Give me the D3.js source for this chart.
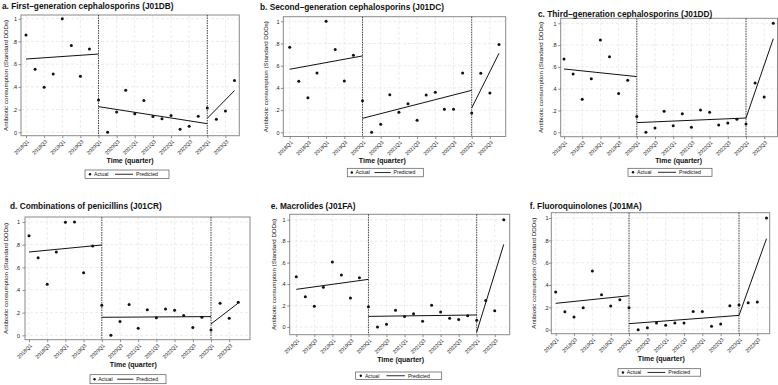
<!DOCTYPE html>
<html><head><meta charset="utf-8">
<script src="https://cdn.jsdelivr.net/npm/d3@7"></script>
<style>body{margin:0;background:#fff}svg{display:block;font-family:"Liberation Sans",Arial,sans-serif}</style>
</head><body><svg id="c" width="778" height="385"></svg>
<script>
// ---------- DATA ----------
const quarters = ["2018Q1","2018Q2","2018Q3","2018Q4","2019Q1","2019Q2","2019Q3","2019Q4",
  "2020Q1","2020Q2","2020Q3","2020Q4","2021Q1","2021Q2","2021Q3","2021Q4",
  "2022Q1","2022Q2","2022Q3","2022Q4","2023Q1","2023Q2","2023Q3","2023Q4"];
const tickLabels = ["2018Q1","2018Q3","2019Q1","2019Q3","2020Q1","2020Q3","2021Q1","2021Q3","2022Q1","2022Q3","2023Q1","2023Q3"];
const yTicks = [0, 0.2, 0.4, 0.6, 0.8, 1];
const yTickLabels = ["0", ".2", ".4", ".6", ".8", "1"];
const interruptions = ["2020Q1", "2023Q1"];
const segmentStarts = ["2018Q1", "2020Q1", "2023Q1"];
const segmentEnds = ["2020Q1", "2023Q1", "2023Q4"];
const titles = [
  "a. First–generation cephalosporins (J01DB)",
  "b. Second–generation cephalosporins (J01DC)",
  "c. Third–generation cephalosporins (J01DD)",
  "d. Combinations of penicillins (J01CR)",
  "e. Macrolides (J01FA)",
  "f. Fluoroquinolones (J01MA)"
];
const yAxisTitle = "Antibiotic consumption (Standard DDDs)";
const xAxisTitle = "Time (quarter)";
const legendLabels = ["Actual", "Predicted"];

const actualA = [0.856,0.554,0.396,0.513,1.0,0.765,0.493,0.733,0.284,0.0,0.179,0.37,0.164,0.279,0.138,0.12,0.147,0.026,0.053,0.141,0.214,0.114,0.188,0.457];
const actualB = [0.766,0.459,0.312,0.535,1.0,0.745,0.462,0.694,0.285,0.0,0.072,0.339,0.18,0.258,0.108,0.336,0.36,0.207,0.207,0.535,0.174,0.532,0.354,0.79];
const actualC = [0.673,0.535,0.303,0.492,0.847,0.694,0.355,0.477,0.144,0.0,0.04,0.193,0.061,0.171,0.046,0.205,0.183,0.067,0.086,0.119,0.076,0.453,0.324,1.0];
const actualD = [0.879,0.685,0.45,0.735,0.997,1.0,0.553,0.788,0.265,0.0,0.121,0.271,0.062,0.226,0.156,0.232,0.221,0.174,0.068,0.159,0.047,0.282,0.15,0.291];
const actualE = [0.469,0.283,0.193,0.37,0.606,0.484,0.27,0.46,0.189,0.0,0.025,0.155,0.099,0.124,0.053,0.202,0.14,0.081,0.071,0.106,0.062,0.248,0.152,1.0];
const actualF = [0.337,0.161,0.113,0.197,0.525,0.313,0.212,0.269,0.197,0.0,0.018,0.06,0.039,0.06,0.06,0.164,0.164,0.03,0.051,0.215,0.221,0.242,0.248,1.0];

// predicted segment [start, end] values
const predictedA = [[0.645,0.689],[0.226,0.076],[0.123,0.367]];
const predictedB = [[0.568,0.688],[0.126,0.378],[0.219,0.712]];
const predictedC = [[0.581,0.511],[0.089,0.131],[0.131,0.859]];
const predictedD = [[0.735,0.797],[0.159,0.165],[0.100,0.285]];
const predictedE = [[0.351,0.444],[0.099,0.112],[-0.047,0.770]];
const predictedF = [[0.236,0.304],[0.054,0.128],[0.128,0.815]];

const actualSeries = [actualA, actualB, actualC, actualD, actualE, actualF];
const predictedSeries = [predictedA, predictedB, predictedC, predictedD, predictedE, predictedF];

// ---------- LAYOUT (pixel placement per panel) ----------
const layout = [
  {x0:26, x20:207.3, y0:132.3, y1:18.7, frame:[21,15,239.3,135.7], title:[2,9], yLab:17, yTitle:6, xTitle:[130,163], legend:[85,170,84,8.5]},
  {x0:289.7, x20:471.7, y0:132.3, y1:21.3, frame:[283.3,16.7,505.7,136.5], title:[260,9.5], yLab:279.5, yTitle:265.5, xTitle:[382.3,163], legend:[347.3,168.3,76,8.5]},
  {x0:564, x20:746, y0:132.3, y1:23.3, frame:[560.7,18.3,777.5,136.7], title:[538,17], yLab:556.5, yTitle:541, xTitle:[678.7,162.5], legend:[628,168.3,84,8]},
  {x0:29, x20:211, y0:335.3, y1:222, frame:[25,217,250,339.7], title:[10,209], yLab:20, yTitle:6, xTitle:[133.3,367], legend:[90,374.7,76,9]},
  {x0:296.3, x20:476.7, y0:327, y1:219.7, frame:[289.7,214.3,509.7,334.7], title:[270.7,209], yLab:285.5, yTitle:273.5, xTitle:[400.7,362], legend:[355.7,372,86,7.5]},
  {x0:555.7, x20:739, y0:329.7, y1:218, frame:[551.3,212.7,769.7,333.7], title:[529.7,209], yLab:548.5, yTitle:533.5, xTitle:[661.3,360.5], legend:[618,368.7,82.7,7.5]}
];

const svg = d3.select("#c");
const qIndex = q => quarters.indexOf(q);

layout.forEach((L, p) => {
  const g = svg.append("g");
  const x = d3.scaleLinear().domain([0, 20]).range([L.x0, L.x20]);
  const y = d3.scaleLinear().domain([0, 1]).range([L.y0, L.y1]);
  const [fl, ft, fr, fb] = L.frame;

  // gridlines
  const tickIdx = tickLabels.map(qIndex);
  g.selectAll(".vg").data(tickIdx).join("line")
    .attr("x1", d => x(d)).attr("x2", d => x(d)).attr("y1", ft).attr("y2", fb)
    .attr("stroke", "#e4e4e4").attr("stroke-width", 0.7).attr("stroke-dasharray", "3,2");
  g.selectAll(".hg").data(yTicks).join("line")
    .attr("x1", fl).attr("x2", fr).attr("y1", d => y(d)).attr("y2", d => y(d))
    .attr("stroke", "#e4e4e4").attr("stroke-width", 0.7).attr("stroke-dasharray", "3,2");

  // frame
  g.append("rect").attr("x", fl).attr("y", ft).attr("width", fr - fl).attr("height", fb - ft)
    .attr("fill", "none").attr("stroke", "#8a8a8a").attr("stroke-width", 1);

  // x axis
  const xa = g.append("g").attr("transform", `translate(0,${fb})`)
    .call(d3.axisBottom(x).tickValues(tickIdx).tickFormat((d, i) => tickLabels[i]).tickSize(2.5).tickSizeOuter(0));
  xa.select(".domain").remove();
  xa.selectAll(".tick line").attr("stroke", "#666").attr("stroke-width", 0.7);
  xa.selectAll(".tick text").attr("font-size", 5.2).attr("font-family", "Liberation Sans, Arial, sans-serif")
    .attr("fill", "#222").attr("text-anchor", "end").attr("x", 0).attr("y", 0).attr("dy", "0.35em")
    .attr("transform", "translate(1.5,5) rotate(-45)");

  // y axis
  const ya = g.append("g").attr("transform", `translate(${fl},0)`)
    .call(d3.axisLeft(y).tickValues(yTicks).tickFormat((d, i) => yTickLabels[i]).tickSize(2.5).tickSizeOuter(0));
  ya.select(".domain").remove();
  ya.selectAll(".tick line").attr("stroke", "#666").attr("stroke-width", 0.7);
  ya.selectAll(".tick text").attr("font-size", 5.5).attr("font-family", "Liberation Sans, Arial, sans-serif")
    .attr("fill", "#222").attr("x", L.yLab - fl).attr("text-anchor", "end");

  // interruption lines
  g.selectAll(".intr").data(interruptions).join("line")
    .attr("x1", d => x(qIndex(d))).attr("x2", d => x(qIndex(d))).attr("y1", ft).attr("y2", fb)
    .attr("stroke", "#333").attr("stroke-width", 0.9).attr("stroke-dasharray", "1.5,1");

  // predicted segments
  const pred = predictedSeries[p];
  g.selectAll(".pred").data(pred).join("line")
    .attr("x1", (d, i) => x(qIndex(segmentStarts[i]))).attr("y1", d => y(d[0]))
    .attr("x2", (d, i) => x(qIndex(segmentEnds[i]))).attr("y2", d => y(d[1]))
    .attr("stroke", "#111").attr("stroke-width", 1);

  // actual points
  g.selectAll(".pt").data(actualSeries[p]).join("circle")
    .attr("cx", (d, i) => x(i)).attr("cy", d => y(d)).attr("r", 1.5).attr("fill", "#111");

  // titles
  g.append("text").attr("x", L.title[0]).attr("y", L.title[1]).attr("font-size", 8.3)
    .attr("font-weight", "bold").attr("fill", "#111").text(titles[p]);
  g.append("text").attr("transform", `translate(${L.yTitle},${(ft + fb) / 2}) rotate(-90)`)
    .attr("text-anchor", "middle").attr("dy", "0.35em").attr("font-size", 6.2).attr("fill", "#111").text(yAxisTitle);
  g.append("text").attr("x", L.xTitle[0]).attr("y", L.xTitle[1]).attr("text-anchor", "middle")
    .attr("font-size", 7).attr("font-weight", "bold").attr("fill", "#111").text(xAxisTitle);

  // legend
  const [lx, ly, lw, lh] = L.legend;
  const lg = g.append("g");
  lg.append("rect").attr("x", lx).attr("y", ly).attr("width", lw).attr("height", lh)
    .attr("fill", "#fff").attr("stroke", "#555").attr("stroke-width", 0.7);
  const k = lw / 84, cy = ly + lh / 2;
  lg.append("circle").attr("cx", lx + 5 * k).attr("cy", cy).attr("r", 1.2).attr("fill", "#111");
  lg.append("text").attr("x", lx + 9 * k).attr("y", cy).attr("dy", "0.35em").attr("font-size", 5.2).attr("fill", "#111").text(legendLabels[0]);
  lg.append("line").attr("x1", lx + 30 * k).attr("x2", lx + 48 * k).attr("y1", cy).attr("y2", cy).attr("stroke", "#111").attr("stroke-width", 0.9);
  lg.append("text").attr("x", lx + 51 * k).attr("y", cy).attr("dy", "0.35em").attr("font-size", 5.2).attr("fill", "#111").text(legendLabels[1]);
});
</script></body></html>
